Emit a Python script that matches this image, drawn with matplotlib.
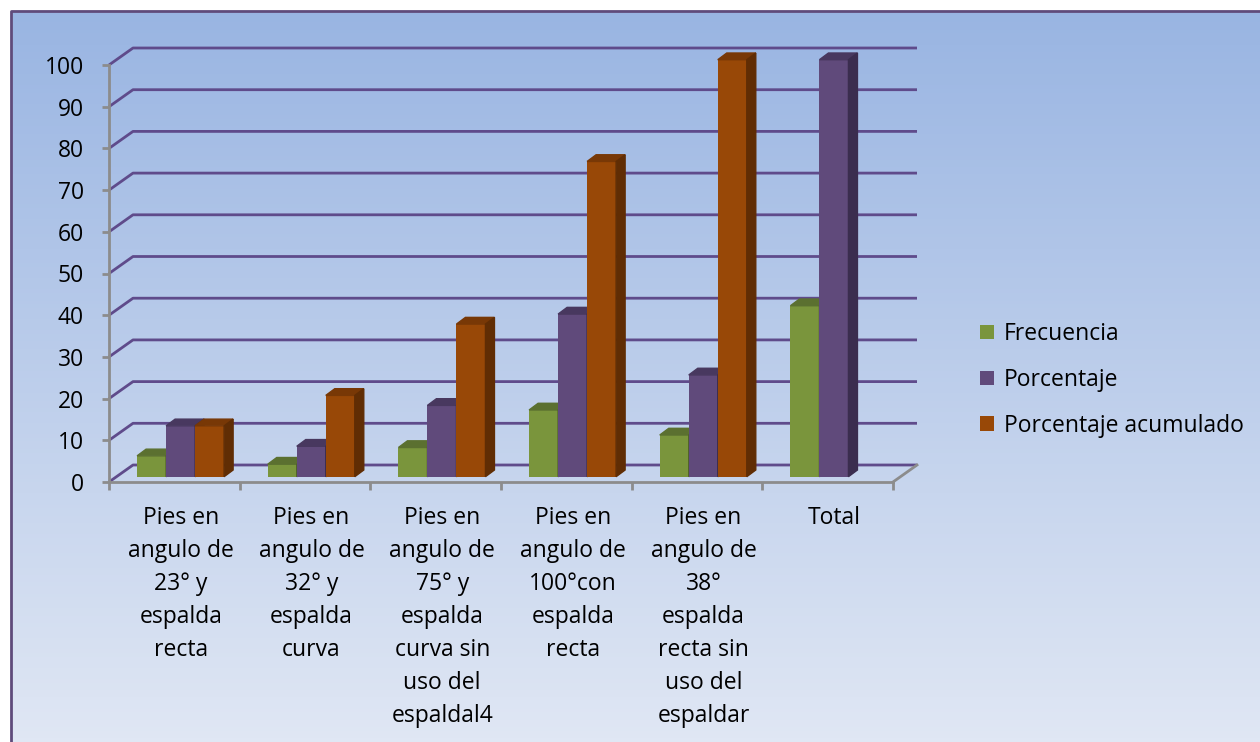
import numpy as np
import matplotlib
matplotlib.use("Agg")
import matplotlib.pyplot as plt
from matplotlib.patches import Polygon, Patch

categories = [
    "Pies en\nangulo de\n23° y\nespalda\nrecta",
    "Pies en\nangulo de\n32° y\nespalda\ncurva",
    "Pies en\nangulo de\n75° y\nespalda\ncurva sin\nuso del\nespaldal4",
    "Pies en\nangulo de\n100°con\nespalda\nrecta",
    "Pies en\nangulo de\n38°\nespalda\nrecta sin\nuso del\nespaldar",
    "Total",
]
frecuencia = [5, 3, 7, 16, 10, 41]
porcentaje = [12.2, 7.3, 17.1, 39.0, 24.4, 100]
acumulado = [12.2, 19.5, 36.6, 75.6, 100, None]
y_ticks = list(range(0, 101, 10))

series = [
    ("Frecuencia", frecuencia, "#7a953c", "#5b7030", "#4f6228"),
    ("Porcentaje", porcentaje, "#604a7b", "#48385f", "#3b2d4f"),
    ("Porcentaje acumulado", acumulado, "#984807", "#783806", "#602d04"),
]

plt.rcParams["font.family"] = ["Open Sans", "DejaVu Sans"]
fs = 16.5

W, H = 1260, 742
fig = plt.figure(figsize=(W / 100, H / 100), dpi=100)

# background gradient and chart border
bg = fig.add_axes([0, 0, 1, 1], zorder=-10)
top_c = np.array([152, 180, 226]) / 255
bot_c = np.array([224, 231, 244]) / 255
t = np.linspace(0, 1, 200)[:, None, None]
grad = top_c * (1 - t) + bot_c * t
grad = np.repeat(grad, 2, axis=1)
bg.imshow(grad, aspect="auto", extent=[0, 1, 0, 1], origin="upper")
bg.fill_between([0, 1], [1 - 11 / H] * 2, [1, 1], color="white", zorder=2)
bg.fill_between([0, 11 / W], [0, 0], [1, 1], color="white", zorder=2)
bg.plot([11 / W, 11 / W, 1], [0, 1 - 11 / H, 1 - 11 / H], color="#5f4b7b", lw=2, zorder=3)
bg.set_xlim(0, 1)
bg.set_ylim(0, 1)
bg.axis("off")

# front plane of the chart: categories across, values 0..100 up
x0, x1, y0, y1 = 109, 893, 482, 65
ax = fig.add_axes([x0 / W, 1 - y0 / H, (x1 - x0) / W, (y0 - y1) / H])
ax.set_facecolor("none")
ax.set_xlim(0, len(categories))
ax.set_ylim(0, 100)

px_x = (x1 - x0) / len(categories)
px_y = (y0 - y1) / 100
wall_dx = 24 / px_x
wall_dy = 17 / px_y
grid_c = "#5f4b8b"
edge_c = "#8c8c8c"

# side wall and back wall gridlines
for v in y_ticks:
    ax.plot([0, wall_dx, len(categories) + wall_dx], [v, v + wall_dy, v + wall_dy],
            color=grid_c, lw=2, clip_on=False, zorder=1, solid_capstyle="butt")
# floor edges
ax.plot([len(categories), len(categories) + wall_dx], [0, wall_dy], color=edge_c, lw=2,
        clip_on=False, zorder=1)

# bars with top and side faces
base = 1.27
bar_w = 0.222
lefts = [0.215, 0.437, 0.659]
depth_x = 9 / px_x
depth_y = 6.7 / px_y
for k, (name, vals, front, top, side) in enumerate(series):
    xs = [i + lefts[k] for i, v in enumerate(vals) if v is not None]
    hs = [v for v in vals if v is not None]
    ax.bar(xs, hs, width=bar_w, bottom=base, align="edge", color=front,
           zorder=3 + k, clip_on=False)
    for x, h in zip(xs, hs):
        yt = base + h
        ax.add_patch(Polygon([(x, yt), (x + bar_w, yt), (x + bar_w + depth_x, yt + depth_y),
                              (x + depth_x, yt + depth_y)], closed=True, color=top,
                             zorder=3 + k, clip_on=False))
        ax.add_patch(Polygon([(x + bar_w, base), (x + bar_w + depth_x, base + depth_y),
                              (x + bar_w + depth_x, yt + depth_y), (x + bar_w, yt)],
                             closed=True, color=side, zorder=3 + k, clip_on=False))

for s in ["top", "right"]:
    ax.spines[s].set_visible(False)
for s in ["left", "bottom"]:
    ax.spines[s].set_color(edge_c)
    ax.spines[s].set_linewidth(2)
    ax.spines[s].set_zorder(2)

ax.set_yticks(y_ticks)
ax.set_yticklabels([str(v) for v in y_ticks], fontsize=fs)
ax.tick_params(axis="y", length=5, width=2, color=edge_c, pad=13)
ax.set_xticks(range(len(categories) + 1))
ax.set_xticklabels([])
ax.set_xticks([i + 0.55 for i in range(len(categories))], minor=True)
ax.set_xticklabels(categories, minor=True, fontsize=fs, linespacing=1.5, va="top")
ax.tick_params(axis="x", which="major", length=6, width=2, color=edge_c)
ax.tick_params(axis="x", which="minor", length=0, pad=17)

handles = [Patch(facecolor=c, edgecolor="none") for _, _, c, _, _ in series]
fig.legend(handles, [n for n, *_ in series], loc="center left",
           bbox_to_anchor=(980 / W, 1 - 380 / H), frameon=False, fontsize=fs,
           borderpad=0, borderaxespad=0, handlelength=0.6, handleheight=0.6,
           handletextpad=0.45, labelspacing=0.95)

fig.savefig("out.png", dpi=100)
